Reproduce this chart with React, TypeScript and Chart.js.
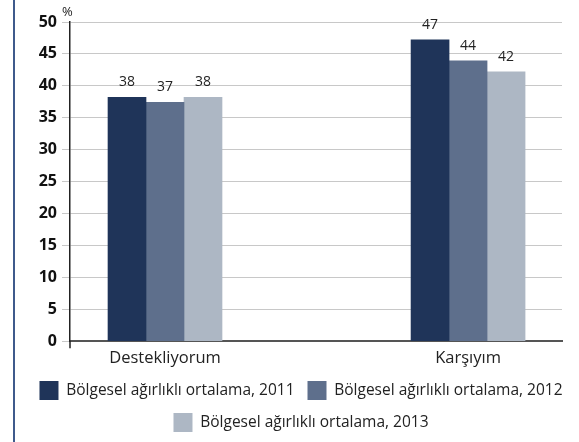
import React, { useEffect, useRef } from 'react';
import { Chart, registerables } from 'chart.js';

Chart.register(...registerables);

const categories = ['Destekliyorum', 'Karşıyım'];
const seriesNames = [
  'Bölgesel ağırlıklı ortalama, 2011',
  'Bölgesel ağırlıklı ortalama, 2012',
  'Bölgesel ağırlıklı ortalama, 2013',
];
const values2011 = [38.2, 47.2];
const values2012 = [37.4, 43.9];
const values2013 = [38.2, 42.2];
const seriesColors = ['#1f3459', '#5e6f8c', '#adb7c4'];
const yMin = 0;
const yMax = 50;
const yStep = 5;
const unitLabel = '%';

const FONT = '"Open Sans", sans-serif';
const LEGEND_SHIFT = 20;

const extrasPlugin = {
  id: 'extras',
  afterLayout(chart: any) {
    const l = chart.legend;
    if (l) {
      l.left += LEGEND_SHIFT;
      l.right += LEGEND_SHIFT;
    }
  },
  beforeDraw(chart: any) {
    const ctx = chart.ctx;
    ctx.save();
    ctx.fillStyle = '#3f5a8c';
    ctx.fillRect(13, 0, 2, chart.height);
    ctx.restore();
  },
  afterDatasetsDraw(chart: any) {
    const ctx = chart.ctx;
    ctx.save();
    ctx.font = `14px ${FONT}`;
    ctx.fillStyle = '#222';
    ctx.textAlign = 'center';
    ctx.textBaseline = 'middle';
    chart.data.datasets.forEach((ds: any, di: number) => {
      const meta = chart.getDatasetMeta(di);
      meta.data.forEach((el: any, i: number) => {
        const v = ds.data[i].y;
        ctx.fillText(String(Math.round(v)), el.x, el.y - 15);
      });
    });
    const area = chart.chartArea;
    ctx.font = `13px ${FONT}`;
    ctx.textAlign = 'left';
    ctx.fillStyle = '#222';
    ctx.fillText(unitLabel, area.left - 8, area.top - 10);
    // y-axis line extension below the baseline
    ctx.strokeStyle = '#222';
    ctx.lineWidth = 1.5;
    ctx.beginPath();
    ctx.moveTo(area.left, area.bottom);
    ctx.lineTo(area.left, area.bottom + 7);
    ctx.stroke();
    ctx.restore();
  },
};

export default function App() {
  const ref = useRef<HTMLCanvasElement>(null);
  useEffect(() => {
    document.body.style.margin = '0';
    const series = [values2011, values2012, values2013];
    const xMin = -0.3135;
    const xMax = 1.31;
    const chart = new Chart(ref.current!, {
      type: 'bar',
      data: {
        datasets: series.map((vals, si) => ({
          label: seriesNames[si],
          data: vals.map((v, i) => ({ x: i, y: v })),
          backgroundColor: seriesColors[si],
          borderWidth: 0,
          barThickness: 38,
        })),
      },
      options: {
        responsive: false,
        animation: false,
        layout: { padding: { top: 22, right: 17, bottom: 0, left: 0 } },
        plugins: {
          tooltip: { enabled: false },
          legend: {
            position: 'bottom',
            labels: {
              boxWidth: 19,
              boxHeight: 19,
              padding: 13,
              color: '#222',
              font: { family: FONT, size: 15.5 },
            },
          },
        },
        scales: {
          x: {
            type: 'linear',
            min: xMin,
            max: xMax,
            offset: false,
            grid: {
              offset: false,
              drawOnChartArea: false,
              drawTicks: true,
              tickLength: 7,
              color: 'rgba(0,0,0,0)',
            },
            border: { color: '#555', width: 2 },
            ticks: {
              stepSize: 1,
              includeBounds: false,
              autoSkip: false,
              maxRotation: 0,
              padding: 0,
              color: '#222',
              font: { family: FONT, size: 16.5 },
              callback: (v: any) => {
                const n = Number(v);
                return Number.isInteger(n) && categories[n] !== undefined ? categories[n] : '';
              },
            },
          },
          y: {
            min: yMin,
            max: yMax,
            afterFit: (s: any) => {
              s.width = 70;
            },
            grid: { color: '#c8c8c8', lineWidth: 1, tickLength: 8 },
            border: { color: '#222', width: 1.5 },
            ticks: {
              stepSize: yStep,
              padding: 5,
              color: '#111',
              font: { family: FONT, size: 16, weight: 'bold' },
            },
          },
        },
      },
      plugins: [extrasPlugin],
    });
    return () => chart.destroy();
  }, []);
  return (
    <div style={{ width: 579, height: 442 }}>
      <canvas ref={ref} width={579} height={442} />
    </div>
  );
}
